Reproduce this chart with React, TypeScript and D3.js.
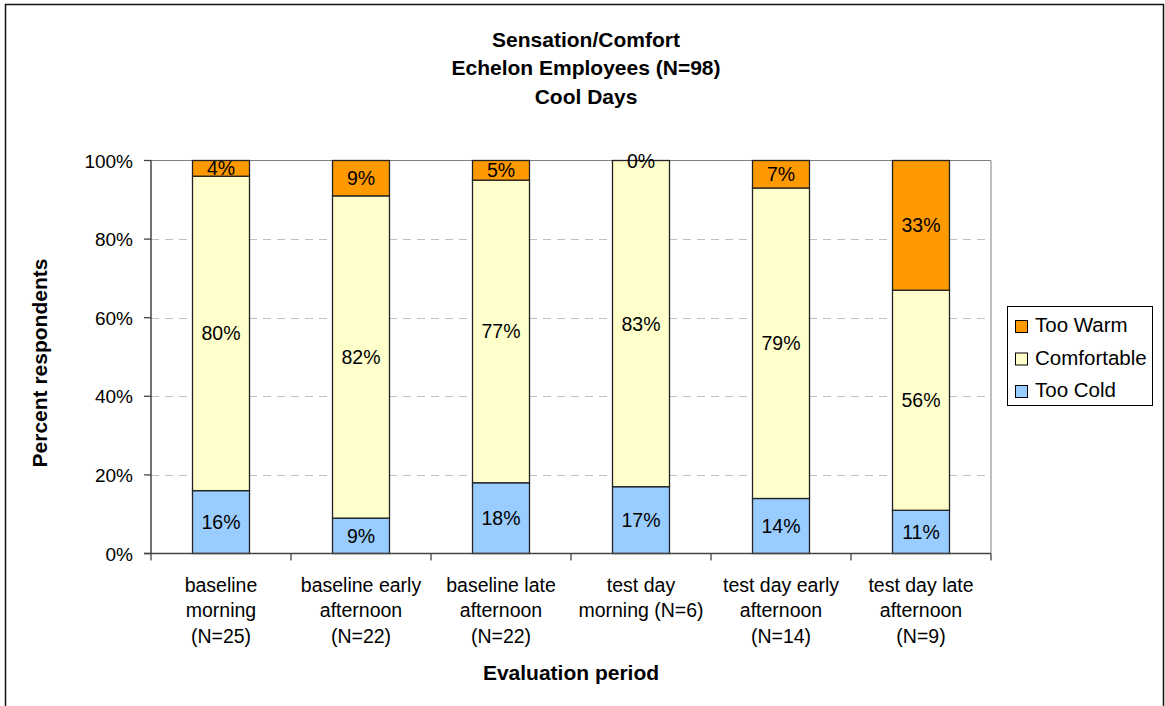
import React from "react";
import * as d3 from "d3";

// Evaluation periods (each entry is the wrapped label lines)
const periods: string[][] = [
  ["baseline", "morning", "(N=25)"],
  ["baseline early", "afternoon", "(N=22)"],
  ["baseline late", "afternoon", "(N=22)"],
  ["test day", "morning (N=6)"],
  ["test day early", "afternoon", "(N=14)"],
  ["test day late", "afternoon", "(N=9)"],
];

// Percent of respondents per sensation
const tooCold = [16, 9, 18, 17, 14, 11];
const comfortable = [80, 82, 77, 83, 79, 56];
const tooWarm = [4, 9, 5, 0, 7, 33];

const seriesNames = ["Too Cold", "Comfortable", "Too Warm"];
const seriesColors: Record<string, string> = {
  "Too Cold": "#99CCFF",
  Comfortable: "#FFFFCC",
  "Too Warm": "#FF9900",
};
const legendOrder = ["Too Warm", "Comfortable", "Too Cold"];

const yTicks = [0, 20, 40, 60, 80, 100];
const titleLines = ["Sensation/Comfort", "Echelon Employees (N=98)", "Cool Days"];

const W = 1165;
const H = 706;
const plot = { left: 151, right: 991, top: 160.5, bottom: 553.5 };
const FONT = "'Liberation Sans', Arial, Helvetica, sans-serif";

export default function App() {
  const rows = periods.map((p, i) => ({
    key: String(i),
    "Too Cold": tooCold[i],
    Comfortable: comfortable[i],
    "Too Warm": tooWarm[i],
  }));
  const stacked = d3.stack<any>().keys(seriesNames)(rows);

  const x = d3
    .scaleBand<string>()
    .domain(rows.map((r) => r.key))
    .range([plot.left, plot.right])
    .paddingInner(0.593)
    .paddingOuter(0.2965);
  const y = d3.scaleLinear().domain([0, 100]).range([plot.bottom, plot.top]);

  const step = x.step();
  const boundaries = d3.range(periods.length + 1).map((i) => plot.left + i * step);
  const cx = (plot.left + plot.right) / 2;
  const cy = (plot.top + plot.bottom) / 2;

  return (
    <svg
      width={W}
      height={H}
      style={{ position: "absolute", left: 0, top: 0, display: "block", background: "#fff" }}
      fontFamily={FONT}
    >
      {/* chart frame */}
      <rect x={5.5} y={4.5} width={1158} height={730} fill="#fff" stroke="#111" strokeWidth={1.5} />

      {/* title */}
      {titleLines.map((t, i) => (
        <text key={t} x={586} y={46.5 + i * 28.5} textAnchor="middle" fontWeight="bold" fontSize={21} fill="#000">
          {t}
        </text>
      ))}

      {/* gridlines */}
      {yTicks
        .filter((t) => t > 0 && t < 100)
        .map((t) => (
          <line
            key={t}
            x1={plot.left}
            x2={plot.right}
            y1={Math.round(y(t)) + 0.5}
            y2={Math.round(y(t)) + 0.5}
            stroke="#C0C0C0"
            strokeDasharray="8,6"
          />
        ))}

      {/* plot area border (top & right) */}
      <line x1={plot.left} x2={plot.right} y1={plot.top} y2={plot.top} stroke="#808080" />
      <line x1={plot.right} x2={plot.right} y1={plot.top} y2={plot.bottom} stroke="#808080" />

      {/* stacked bars */}
      {stacked.map((s) =>
        s.map((d, i) => {
          const y0 = y(d[0]);
          const y1 = y(d[1]);
          return (
            <rect
              key={s.key + i}
              x={x(String(i))}
              y={y1}
              width={x.bandwidth()}
              height={Math.max(0, y0 - y1)}
              fill={seriesColors[s.key]}
              stroke="#222"
              strokeWidth={1.3}
            />
          );
        })
      )}

      {/* data labels */}
      {stacked.map((s) =>
        s.map((d, i) => {
          const v = d[1] - d[0];
          return (
            <text
              key={"l" + s.key + i}
              x={(x(String(i)) as number) + x.bandwidth() / 2}
              y={y((d[0] + d[1]) / 2) + 7}
              textAnchor="middle"
              fontSize={19.5}
              fill="#000"
            >
              {`${v}%`}
            </text>
          );
        })
      )}

      {/* y axis */}
      <line x1={plot.left} x2={plot.left} y1={plot.top} y2={plot.bottom} stroke="#444" strokeWidth={1.5} />
      {yTicks.map((t) => (
        <g key={t}>
          <line x1={plot.left - 7} x2={plot.left} y1={y(t)} y2={y(t)} stroke="#444" strokeWidth={1.3} />
          <text x={133} y={y(t) + 7} textAnchor="end" fontSize={19} fill="#000">
            {`${t}%`}
          </text>
        </g>
      ))}

      {/* x axis */}
      <line x1={plot.left - 7} x2={plot.right} y1={plot.bottom} y2={plot.bottom} stroke="#444" strokeWidth={1.5} />
      {boundaries.map((bx, i) => (
        <line key={i} x1={bx} x2={bx} y1={plot.bottom} y2={plot.bottom + 7} stroke="#444" strokeWidth={1.3} />
      ))}
      {periods.map((lines, i) => (
        <text key={i} textAnchor="middle" fontSize={19.5} fill="#000">
          {lines.map((ln, j) => (
            <tspan key={j} x={(x(String(i)) as number) + x.bandwidth() / 2} y={591.5 + j * 25.5}>
              {ln}
            </tspan>
          ))}
        </text>
      ))}

      {/* axis titles */}
      <text x={cx} y={680} textAnchor="middle" fontWeight="bold" fontSize={21} fill="#000">
        Evaluation period
      </text>
      <text
        transform={`translate(46.5,${cy + 6}) rotate(-90)`}
        textAnchor="middle"
        fontWeight="bold"
        fontSize={21}
        fill="#000"
      >
        Percent respondents
      </text>

      {/* legend */}
      <rect x={1007.5} y={306.5} width={145} height={99} fill="#fff" stroke="#000" strokeWidth={1} />
      {legendOrder.map((name, i) => (
        <g key={name} transform={`translate(1015,${320 + i * 32.5})`}>
          <rect x={0.5} y={0.5} width={12} height={12} fill={seriesColors[name]} stroke="#000" strokeWidth={1} />
          <text x={20} y={12} fontSize={20.5} fill="#000">
            {name}
          </text>
        </g>
      ))}
    </svg>
  );
}
